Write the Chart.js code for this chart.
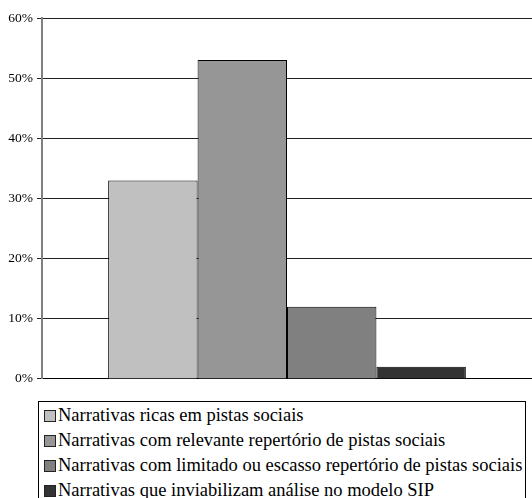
<!DOCTYPE html>
<html>
<head>
<meta charset="utf-8">
<script src="https://cdn.jsdelivr.net/npm/chart.js@4.4.0/dist/chart.umd.min.js"></script>
<style>
  html, body { margin: 0; padding: 0; background: #fff; }
  #wrap { position: relative; width: 532px; height: 498px; overflow: hidden; }
  #chartBox { position: absolute; left: 0; top: 0; width: 532px; height: 391px; }
  #legend {
    position: absolute; left: 38px; top: 401px; width: 488px; height: 110px;
    border: 1px solid #000; box-sizing: border-box; padding-top: 1px; color: #000;
  }
  .row { height: 25px; display: flex; align-items: center; white-space: nowrap; padding-left: 5px; }
  .sw { display: inline-block; width: 10px; height: 10px; border: 1px solid #222;
        margin-right: 2px; flex: none; }
</style>
</head>
<body>
<div id="wrap">
  <div id="chartBox"><canvas id="myChart"></canvas></div>
  <div id="legend" style="font-family: 'Liberation Serif'; font-size: 18.5px;"></div>
</div>
<script>
// données du graphique
const categories = [''];
const seriesNames = [
  'Narrativas ricas em pistas sociais',
  'Narrativas com relevante repertório de pistas sociais',
  'Narrativas com limitado ou escasso repertório de pistas sociais',
  'Narrativas que inviabilizam análise no modelo SIP'
];
const seriesValues = [33, 53, 12, 2];
const seriesColors = ['#c0c0c0', '#969696', '#808080', '#333333'];
const yTicks = [0, 10, 20, 30, 40, 50, 60];

function drawChart() {
  const datasets = seriesNames.map((name, i) => ({
    label: name,
    data: [seriesValues[i]],
    backgroundColor: seriesColors[i],
    borderColor: '#000',
    borderWidth: 1,
    categoryPercentage: 0.73,
    barPercentage: 1.0
  }));

  Chart.defaults.font.family = 'Liberation Serif';

  new Chart(document.getElementById('myChart'), {
    type: 'bar',
    data: { labels: categories, datasets: datasets },
    options: {
      responsive: true,
      maintainAspectRatio: false,
      animation: false,
      layout: { padding: { top: 18, right: 0, bottom: 0, left: 0 } },
      plugins: { legend: { display: false }, tooltip: { enabled: false } },
      scales: {
        x: {
          grid: { display: false },
          ticks: { display: false },
          border: { display: true, color: '#000', width: 1 },
          afterFit: (scale) => { scale.height = 0; }
        },
        y: {
          min: 0, max: 60,
          afterBuildTicks: (scale) => { scale.ticks = yTicks.map(v => ({ value: v })); },
          afterFit: (scale) => { scale.width = 42; },
          ticks: {
            callback: (v) => v + '%',
            color: '#000',
            padding: 4,
            font: { family: 'Liberation Serif', size: 13.5 }
          },
          grid: { color: '#222', lineWidth: 1, tickLength: 5 },
          border: { display: true, color: '#808080', width: 2 }
        }
      }
    }
  });
}

// légende HTML
const legend = document.getElementById('legend');
seriesNames.forEach((name, i) => {
  const row = document.createElement('div');
  row.className = 'row';
  const sw = document.createElement('span');
  sw.className = 'sw';
  sw.style.background = seriesColors[i];
  row.appendChild(sw);
  row.appendChild(document.createTextNode(name));
  legend.appendChild(row);
});

// attendre la police avant de dessiner le canvas
document.fonts.load('13px "Liberation Serif"').then(drawChart, drawChart);
</script>
</body>
</html>
